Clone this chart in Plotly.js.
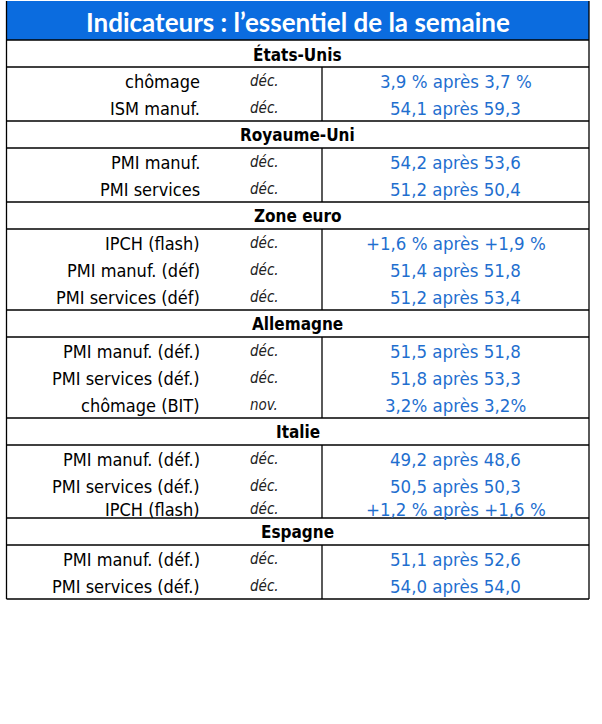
<!DOCTYPE html>
<html><head><meta charset="utf-8">
<script src="https://cdn.plot.ly/plotly-3.0.1.min.js"></script>
<style>html,body{margin:0;padding:0;background:#fff}#chart{width:602px;height:724px}</style>
</head><body><div id="chart"></div>
<script>
// ---- DATA ----
const title = "Indicateurs : l’essentiel de la semaine";
const sections = ['États-Unis','Royaume-Uni','Zone euro','Allemagne','Italie','Espagne'];
const rowSection = [0,0,1,1,2,2,2,3,3,3,4,4,4,5,5];
const indicator = ['chômage','ISM manuf.','PMI manuf.','PMI services','IPCH (flash)','PMI manuf. (déf)','PMI services (déf)',
  'PMI manuf. (déf.)','PMI services (déf.)','chômage (BIT)','PMI manuf. (déf.)','PMI services (déf.)','IPCH (flash)',
  'PMI manuf. (déf.)','PMI services (déf.)'];
const period = ['déc.','déc.','déc.','déc.','déc.','déc.','déc.','déc.','déc.','nov.','déc.','déc.','déc.','déc.','déc.'];
const latest   = [3.9,54.1,54.2,51.2,1.6,51.4,51.2,51.5,51.8,3.2,49.2,50.5,1.2,51.1,54.0];
const previous = [3.7,59.3,53.6,50.4,1.9,51.8,53.4,51.8,53.3,3.2,48.6,50.3,1.6,52.6,54.0];
const unit     = [' %','','','',' %','','','','','%','','',' %','',''];
const signed   = [false,false,false,false,true,false,false,false,false,false,false,false,true,false,false];

// ---- GEOMETRY / STYLE ----
const W = 602, H = 724;
const X0 = 6.5, X1 = 589, XDIV = 322;
const TITLE_TOP = 1, TITLE_BOTTOM = 40;
const HEADER_H = 27, PITCH = 27;
const tight = {'Italie': 4};
const BLUE_BAR = '#0b6cdf';
const VALUE_COLOR = '#1f6fcf';
const NARROW = '"DejaVu Sans Condensed","Liberation Sans Narrow","Arial Narrow",sans-serif';

function fmt(v, i){ return (signed[i]?'+':'') + v.toFixed(1).replace('.', ',') + unit[i]; }

const shapes = [];
const ann = [];
shapes.push({type:'rect', xref:'x', yref:'y', x0:X0, x1:X1, y0:TITLE_TOP, y1:TITLE_BOTTOM,
  fillcolor:BLUE_BAR, line:{width:0}, layer:'below'});
ann.push({xref:'x', yref:'y', x:(X0+X1)/2, y:(TITLE_TOP+TITLE_BOTTOM)/2+1, text:title, showarrow:false,
  xanchor:'center', yanchor:'middle', font:{family:'Lato, "Open Sans", sans-serif', size:26, color:'#fff', weight:700}});

let y = TITLE_BOTTOM;
const hline = (yy)=>shapes.push({type:'line', xref:'x', yref:'y', x0:X0, x1:X1, y0:yy, y1:yy, line:{color:'#000', width:1.3}});
sections.forEach((s, si) => {
  hline(y);
  ann.push({xref:'x', yref:'y', x:(X0+X1)/2, y:y+HEADER_H/2+0.5, text:s, showarrow:false, xanchor:'center', yanchor:'middle',
    font:{family:NARROW, size:17, color:'#000', weight:700}});
  y += HEADER_H;
  hline(y);
  const rows = rowSection.map((r,i)=>r===si?i:-1).filter(i=>i>=0);
  const t = tight[s] || 0;
  const top = y;
  rows.forEach((ri, k) => {
    let cy = top + 14 + PITCH*k;
    if (k === rows.length-1) cy -= t;
    ann.push({xref:'x', yref:'y', x:202, y:cy, text:indicator[ri], showarrow:false, xanchor:'right', yanchor:'middle',
      font:{family:NARROW, size:18, color:'#000'}});
    ann.push({xref:'x', yref:'y', x:248, y:cy, text:period[ri], showarrow:false, xanchor:'left', yanchor:'middle',
      font:{family:NARROW, size:15, color:'#222', style:'italic'}});
    ann.push({xref:'x', yref:'y', x:(XDIV+X1)/2, y:cy, text:fmt(latest[ri],ri)+' après '+fmt(previous[ri],ri), showarrow:false,
      xanchor:'center', yanchor:'middle', font:{family:NARROW, size:18.5, color:VALUE_COLOR}});
  });
  y = top + rows.length*PITCH - 2*t;
  shapes.push({type:'line', xref:'x', yref:'y', x0:XDIV, x1:XDIV, y0:top, y1:y, line:{color:'#000', width:1.3}});
});
hline(y);
// outer verticals
shapes.push({type:'line', xref:'x', yref:'y', x0:X0, x1:X0, y0:TITLE_TOP, y1:y, line:{color:'#000', width:1.3}});
shapes.push({type:'line', xref:'x', yref:'y', x0:X1, x1:X1, y0:TITLE_TOP, y1:y, line:{color:'#000', width:1.3}});

const ax = {range:[0,W], showgrid:false, zeroline:false, showticklabels:false, ticks:'', showline:false, fixedrange:true};
const layout = {
  width:W, height:H, margin:{l:0,r:0,t:0,b:0}, paper_bgcolor:'#fff', plot_bgcolor:'#fff',
  xaxis:Object.assign({}, ax, {range:[0,W]}),
  yaxis:Object.assign({}, ax, {range:[H,0]}),
  shapes:shapes, annotations:ann, showlegend:false
};
Plotly.newPlot('chart', [{x:[], y:[], type:'scatter', mode:'markers', hoverinfo:'skip'}], layout, {staticPlot:true, displayModeBar:false});
</script></body></html>
